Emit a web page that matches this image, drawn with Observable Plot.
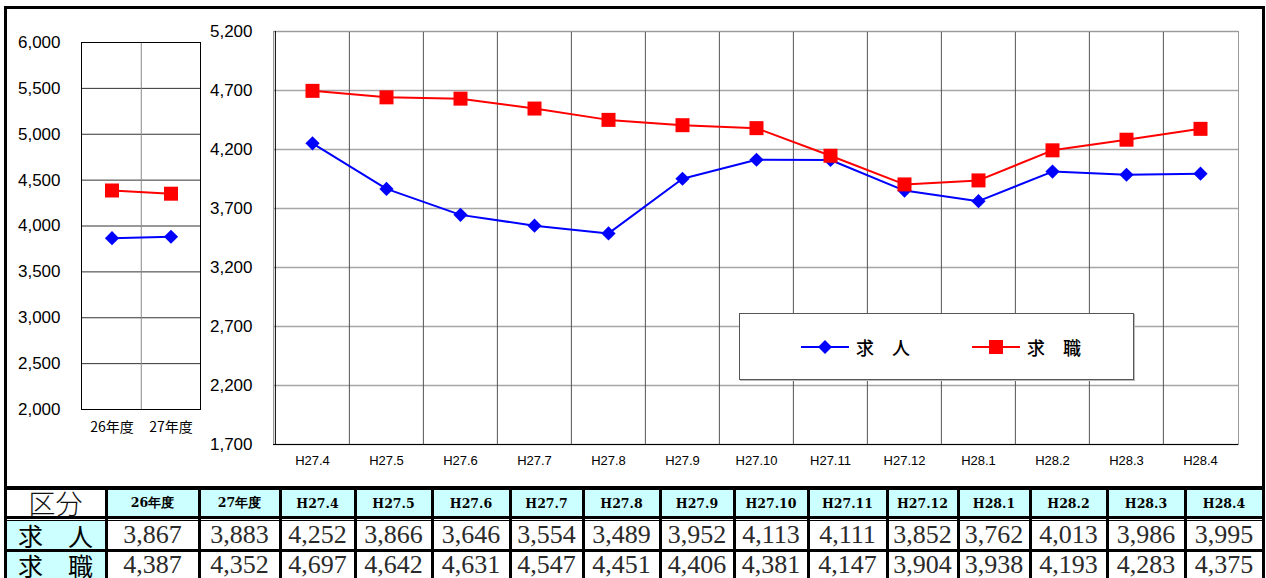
<!DOCTYPE html>
<html>
<head>
<meta charset="utf-8">
<script src="https://cdn.jsdelivr.net/npm/d3@7"></script>
<script src="https://cdn.jsdelivr.net/npm/@observablehq/plot@0.6"></script>
<style>
  html, body { margin: 0; padding: 0; background: #fff; }
  #root { position: relative; width: 1266px; height: 578px; overflow: hidden; background: #fff; }
  .abs { position: absolute; }
  .cell { position: absolute; display: flex; align-items: center; justify-content: center; white-space: nowrap; overflow: visible; }
  .hline, .vline { position: absolute; background: #000; }
</style>
</head>
<body>
<div id="root"></div>
<script>
// ---------- data ----------
const annualCats = ["26年度", "27年度"];
const annualKyujin = [3867, 3883];
const annualKyushoku = [4387, 4352];

const months = ["H27.4", "H27.5", "H27.6", "H27.7", "H27.8", "H27.9", "H27.10", "H27.11", "H27.12", "H28.1", "H28.2", "H28.3", "H28.4"];
const monthlyKyujin = [4252, 3866, 3646, 3554, 3489, 3952, 4113, 4111, 3852, 3762, 4013, 3986, 3995];
const monthlyKyushoku = [4697, 4642, 4631, 4547, 4451, 4406, 4381, 4147, 3904, 3938, 4193, 4283, 4375];

const seriesNames = ["求　人", "求　職"];
const seriesColors = ["#0000ff", "#ff0000"];
const seriesSymbols = ["diamond2", "square"];

const leftTicks = [2000, 2500, 3000, 3500, 4000, 4500, 5000, 5500, 6000];
const rightTicks = [1700, 2200, 2700, 3200, 3700, 4200, 4700, 5200];
const tableCorner = "区分";

// ---------- helpers ----------
const fmt = d3.format(",");
const root = document.getElementById("root");
const sansFont = "'Liberation Sans', Arial, sans-serif";
const cjkFont = "'Noto Sans CJK JP', sans-serif";
const serifFont = "'Liberation Serif', 'DejaVu Serif', serif";

function rows(cats, a, b) {
  const out = [];
  cats.forEach((c, i) => out.push({cat: c, value: a[i], series: seriesNames[0]}));
  cats.forEach((c, i) => out.push({cat: c, value: b[i], series: seriesNames[1]}));
  return out;
}
const annualData = rows(annualCats, annualKyujin, annualKyushoku);
const monthlyData = rows(months, monthlyKyujin, monthlyKyushoku);

// outer chart border
const box = document.createElement("div");
box.className = "abs";
Object.assign(box.style, {left: "4px", top: "6px", width: "1261px", height: "483px", border: "3px solid #000", boxSizing: "border-box"});
root.appendChild(box);

function seriesMarks(data) {
  const marks = [];
  seriesNames.forEach((s, k) => {
    const d = data.filter(r => r.series === s);
    marks.push(Plot.line(d, {x: "cat", y: "value", stroke: seriesColors[k], strokeWidth: 2}));
    marks.push(Plot.dot(d, {x: "cat", y: "value", fill: seriesColors[k], stroke: "none",
      symbol: () => seriesSymbols[k], r: k === 0 ? 6.4 : 7.9}));
  });
  return marks;
}

// ---------- left panel (annual) ----------
const leftW = 205, leftH = 440, lML = 81, lMR = 5;
const leftBw = (leftW - lML - lMR) / annualCats.length;
const leftPlot = Plot.plot({
  width: leftW, height: leftH,
  marginLeft: lML, marginRight: lMR, marginTop: 42, marginBottom: 31,
  style: {background: "transparent", overflow: "visible", fontFamily: sansFont, color: "#000"},
  x: {type: "band", domain: annualCats, padding: 0},
  y: {domain: [2000, 6000]},
  symbol: {type: "identity"},
  marks: [
    Plot.ruleY(leftTicks, {stroke: "#333", strokeWidth: 1}),
    Plot.ruleX(annualCats.slice(1), {dx: -leftBw / 2, stroke: "#888", strokeWidth: 1}),
    Plot.frame({stroke: "#000", strokeWidth: 1}),
    Plot.axisY(leftTicks, {tickSize: 0, tickPadding: 21, fontSize: 17, tickFormat: fmt, label: null, fontFamily: sansFont}),
    Plot.axisX({tickSize: 0, tickPadding: 13, fontSize: 14, label: null, fontFamily: cjkFont}),
    ...seriesMarks(annualData)
  ]
});
leftPlot.style.position = "absolute";
leftPlot.style.left = "0px";
leftPlot.style.top = "0px";
root.appendChild(leftPlot);

// ---------- right panel (monthly) ----------
const rightW = 1045, rightH = 475, rML = 73, rMR = 7;
const rightBw = (rightW - rML - rMR) / months.length;
const rightPlot = Plot.plot({
  width: rightW, height: rightH,
  marginLeft: rML, marginRight: rMR, marginTop: 31, marginBottom: 31,
  style: {background: "transparent", overflow: "visible", fontFamily: sansFont, color: "#000"},
  x: {type: "band", domain: months, padding: 0},
  y: {domain: [1700, 5200]},
  symbol: {type: "identity"},
  marks: [
    Plot.ruleY(rightTicks, {stroke: "#a6a6a6", strokeWidth: 1.5}),
    Plot.ruleX(months.slice(1), {dx: -rightBw / 2, stroke: "#555", strokeWidth: 1}),
    Plot.frame({stroke: "#999", strokeWidth: 1}),
    Plot.ruleY([1700], {stroke: "#000", strokeWidth: 1}),
    Plot.ruleX([months[0]], {dx: -rightBw / 2, stroke: "#000", strokeWidth: 1}),
    Plot.axisY(rightTicks, {tickSize: 0, tickPadding: 21, fontSize: 17, tickFormat: fmt, label: null, fontFamily: sansFont}),
    Plot.axisX({tickSize: 0, tickPadding: 11, fontSize: 13, label: null, fontFamily: sansFont}),
    ...seriesMarks(monthlyData)
  ]
});
rightPlot.style.position = "absolute";
rightPlot.style.left = "200px";
rightPlot.style.top = "0px";
root.appendChild(rightPlot);

// ---------- legend ----------
const legend = document.createElement("div");
legend.className = "abs";
Object.assign(legend.style, {left: "739px", top: "313px", width: "395px", height: "67px", border: "1px solid #555",
  boxShadow: "1px 1px 0 #bbb", background: "#fff", boxSizing: "border-box"});
root.appendChild(legend);
const legendX = [60, 231];
seriesNames.forEach((s, k) => {
  const item = document.createElement("div");
  item.className = "abs";
  Object.assign(item.style, {left: legendX[k] + "px", top: "20px", height: "26px", display: "flex", alignItems: "center"});
  const sw = d3.create("svg").attr("width", 50).attr("height", 26);
  sw.append("line").attr("x1", 1).attr("x2", 49).attr("y1", 13).attr("y2", 13)
    .attr("stroke", seriesColors[k]).attr("stroke-width", 2);
  if (k === 0) sw.append("path").attr("d", "M25,6L32,13L25,20L18,13Z").attr("fill", seriesColors[k]);
  else sw.append("rect").attr("x", 18).attr("y", 6).attr("width", 14).attr("height", 14).attr("fill", seriesColors[k]);
  item.appendChild(sw.node());
  const t = document.createElement("span");
  t.textContent = s;
  Object.assign(t.style, {fontFamily: cjkFont, fontSize: "18px", marginLeft: "6px", color: "#000", fontWeight: "500"});
  item.appendChild(t);
  legend.appendChild(item);
});

// ---------- table ----------
const edges = [5, 106, 199, 280, 355, 432, 510, 583, 660, 734, 808, 887, 958, 1030, 1107, 1185, 1263];
const headerLabels = [tableCorner, ...annualCats, ...months];
const rowValues = [
  [seriesNames[0], ...annualKyujin.map(fmt), ...monthlyKyujin.map(fmt)],
  [seriesNames[1], ...annualKyushoku.map(fmt), ...monthlyKyushoku.map(fmt)]
];
const cyan = "#ccffff";
const rowBands = [[490, 516], [521, 549], [552, 578]];

function cell(x0, x1, y0, y1, text, bg, font) {
  const c = document.createElement("div");
  c.className = "cell";
  Object.assign(c.style, {left: x0 + "px", top: y0 + "px", width: (x1 - x0) + "px", height: (y1 - y0) + "px", background: bg});
  const s = document.createElement("span");
  s.textContent = text;
  Object.assign(s.style, font);
  c.appendChild(s);
  root.appendChild(c);
}
headerLabels.forEach((h, i) => {
  const first = i === 0;
  cell(edges[i], edges[i + 1], rowBands[0][0], rowBands[0][1], h, first ? "#fff" : cyan,
    first ? {fontFamily: cjkFont, fontSize: "27px", lineHeight: "26px", color: "#111", fontWeight: "300", display: "block"}
          : {fontFamily: "'DejaVu Serif', serif", fontSize: "12.5px", fontWeight: "bold", color: "#000"});
});
rowValues.forEach((vals, r) => {
  vals.forEach((v, i) => {
    const first = i === 0;
    cell(edges[i], edges[i + 1], rowBands[r + 1][0], rowBands[r + 1][1], v, first ? cyan : "#fff",
      first ? {fontFamily: cjkFont, fontSize: "25px", lineHeight: "26px", color: "#000", display: "block"}
            : {fontFamily: serifFont, fontSize: "26px", lineHeight: "26px", color: "#2a2a2a", display: "block"});
  });
});
function hline(y, h) {
  const d = document.createElement("div");
  d.className = "hline";
  Object.assign(d.style, {left: "4px", width: "1261px", top: y + "px", height: h + "px"});
  root.appendChild(d);
}
function vline(x) {
  const d = document.createElement("div");
  d.className = "vline";
  Object.assign(d.style, {left: (x - 1) + "px", width: "3px", top: "487px", height: "91px"});
  root.appendChild(d);
}
hline(487, 3); hline(516, 3); hline(520, 1); hline(549, 3);
edges.forEach(vline);
</script>
</body>
</html>
